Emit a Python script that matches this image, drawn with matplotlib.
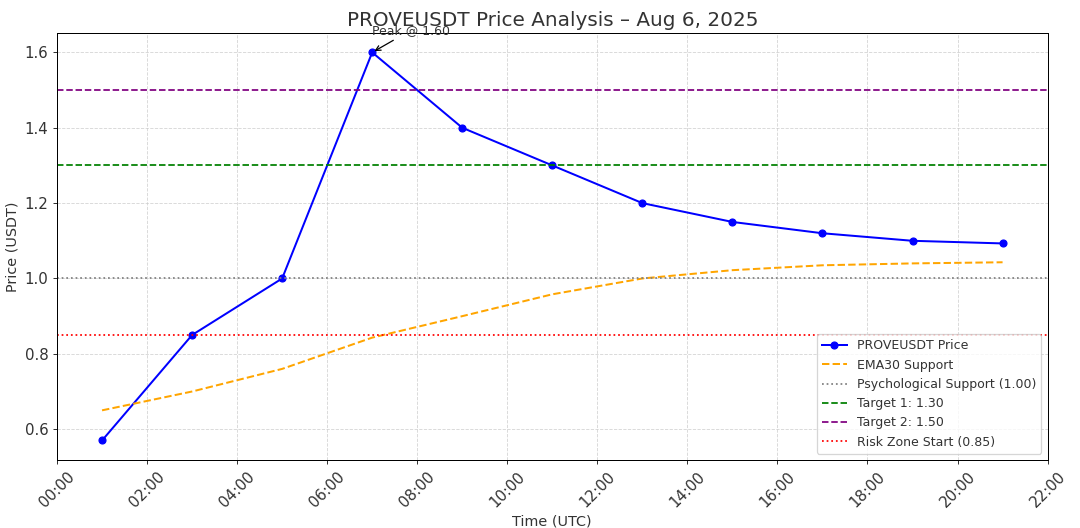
import matplotlib
matplotlib.use("Agg")
import matplotlib.pyplot as plt
from matplotlib.ticker import FuncFormatter, MultipleLocator

hours = [1, 3, 5, 7, 9, 11, 13, 15, 17, 19, 21]
price = [0.57, 0.85, 1.00, 1.60, 1.40, 1.30, 1.20, 1.15, 1.12, 1.10, 1.093]
ema30 = [0.65, 0.70, 0.76, 0.843, 0.90, 0.958, 1.00, 1.022, 1.035, 1.040, 1.043]

levels = [1.00, 1.30, 1.50, 0.85]
level_labels = ["Psychological Support (1.00)", "Target 1: 1.30", "Target 2: 1.50", "Risk Zone Start (0.85)"]
level_colors = ["gray", "green", "purple", "red"]
level_styles = [":", "--", "--", ":"]

plt.rcParams['font.family'] = ['DejaVu Sans']
plt.rcParams['text.color'] = '#333333'
plt.rcParams['axes.labelcolor'] = '#333333'
plt.rcParams['xtick.color'] = '#333333'
plt.rcParams['ytick.color'] = '#333333'

fig = plt.figure(figsize=(12, 528 / 90), dpi=90)
ax = fig.add_axes([0.0528, 0.129, 0.9172, 0.8085])

ax.plot(hours, price, color="blue", marker="o", markersize=5.5, linewidth=1.6, label="PROVEUSDT Price")
ax.plot(hours, ema30, color="orange", linestyle="--", linewidth=1.6, label="EMA30 Support")
for lv, lb, c, s in zip(levels, level_labels, level_colors, level_styles):
    ax.axhline(lv, color=c, linestyle=s, linewidth=1.4, label=lb)

ax.annotate("Peak @ 1.60", xy=(hours[3], price[3]), xytext=(hours[3], 1.65),
            arrowprops=dict(arrowstyle="->", color="black"), fontsize=10)

ax.set_xlim(0, 22)
ax.set_ylim(0.5185, 1.6515)
ax.xaxis.set_major_locator(MultipleLocator(2))
ax.xaxis.set_major_formatter(FuncFormatter(lambda v, p: f"{int(round(v)):02d}:00"))
ax.yaxis.set_major_locator(MultipleLocator(0.2))
plt.setp(ax.get_xticklabels(), rotation=45)
ax.tick_params(labelsize=12)
ax.grid(True, linestyle="--", color="#cccccc", linewidth=0.7, alpha=0.8)
ax.set_title("PROVEUSDT Price Analysis – Aug 6, 2025", fontsize=16)
ax.set_xlabel("Time (UTC)", fontsize=11.5)
ax.set_ylabel("Price (USDT)", fontsize=11.5)
ax.legend(loc="lower right", fontsize=10)

fig.savefig("out.png", dpi=90)
